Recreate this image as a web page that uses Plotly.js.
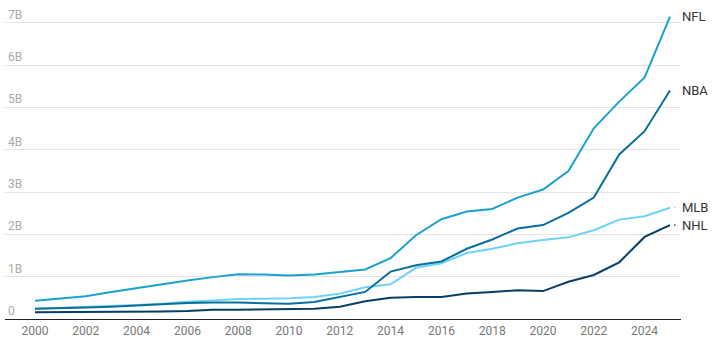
<!DOCTYPE html>
<html>
<head>
<meta charset="utf-8">
<script src="https://cdn.plot.ly/plotly-3.0.1.min.js"></script>
<style>html,body{margin:0;padding:0;background:#fff;}#chart{width:714px;height:351px;}</style>
</head>
<body>
<div id="chart"></div>
<script>
const years = [2000,2001,2002,2003,2004,2005,2006,2007,2008,2009,2010,2011,2012,2013,2014,2015,2016,2017,2018,2019,2020,2021,2022,2023,2024,2025];
const nfl = [0.43,0.48,0.54,0.64,0.73,0.83,0.91,0.99,1.06,1.05,1.03,1.05,1.11,1.17,1.44,1.98,2.36,2.54,2.60,2.87,3.06,3.50,4.51,5.14,5.71,7.15];
const nba = [0.24,0.25,0.27,0.29,0.32,0.35,0.38,0.39,0.39,0.37,0.36,0.40,0.52,0.64,1.12,1.27,1.36,1.66,1.88,2.14,2.22,2.51,2.87,3.89,4.44,5.40];
const mlb = [0.24,0.26,0.285,0.30,0.33,0.36,0.41,0.44,0.475,0.48,0.49,0.52,0.60,0.75,0.82,1.21,1.32,1.56,1.66,1.79,1.87,1.93,2.10,2.35,2.43,2.63];
const nhl = [0.16,0.16,0.16,0.16,0.165,0.175,0.19,0.22,0.22,0.23,0.24,0.245,0.29,0.42,0.50,0.52,0.52,0.60,0.64,0.68,0.66,0.88,1.04,1.34,1.94,2.22];
const seriesNames = ["MLB","NHL","NBA","NFL"];
const seriesData = [mlb, nhl, nba, nfl];
const seriesColors = ["#6dd3f8","#063f66","#0a6f99","#1aa2cf"];
const connectorSeries = ["MLB","NHL"];
const yTickVals = [0,1,2,3,4,5,6,7];
const yTickText = ["0","1B","2B","3B","4B","5B","6B","7B"];
const xTickVals = [2000,2002,2004,2006,2008,2010,2012,2014,2016,2018,2020,2022,2024];

const traces = seriesNames.map((n,i)=>({
  x: years, y: seriesData[i], type:'scatter', mode:'lines', name:n,
  line:{color:seriesColors[i], width:2}, hoverinfo:'skip'
}));

const last = years.length-1;
const annotations = seriesNames.map((n,i)=>({
  x: years[last], y: seriesData[i][last], xref:'x', yref:'y',
  text: n, showarrow:false, xanchor:'left', yanchor:'middle', xshift:10,
  font:{family:'Roboto, sans-serif', size:13, color:'#333'}
}));
seriesNames.forEach((n,i)=>{
  if (connectorSeries.includes(n)) {
    annotations.push({
      x: years[last], y: seriesData[i][last], xref:'x', yref:'y',
      text:'', showarrow:true, ax:7, ay:0, arrowhead:0, arrowwidth:1.2,
      standoff:4, arrowcolor:seriesColors[i]
    });
  }
});

const layout = {
  width:714, height:351,
  margin:{l:5, r:33, t:6, b:32},
  paper_bgcolor:'#fff', plot_bgcolor:'#fff',
  showlegend:false,
  font:{family:'Roboto, sans-serif'},
  xaxis:{
    range:[1998.819, 2025.433], tickvals:xTickVals, ticks:'',
    showgrid:false, zeroline:false, showline:true, linecolor:'#222', linewidth:1.3,
    tickfont:{size:12, color:'#777'}, fixedrange:true
  },
  yaxis:{
    range:[0,7.4], tickvals:yTickVals, ticktext:yTickText,
    ticklabelposition:'inside top', showgrid:true, gridcolor:'#e4e4e4', gridwidth:1,
    zeroline:false, showline:false, ticks:'',
    tickfont:{size:12, color:'#aaa'}, fixedrange:true
  },
  annotations: annotations
};
Plotly.newPlot('chart', traces, layout, {displayModeBar:false, staticPlot:true});
</script>
</body>
</html>
